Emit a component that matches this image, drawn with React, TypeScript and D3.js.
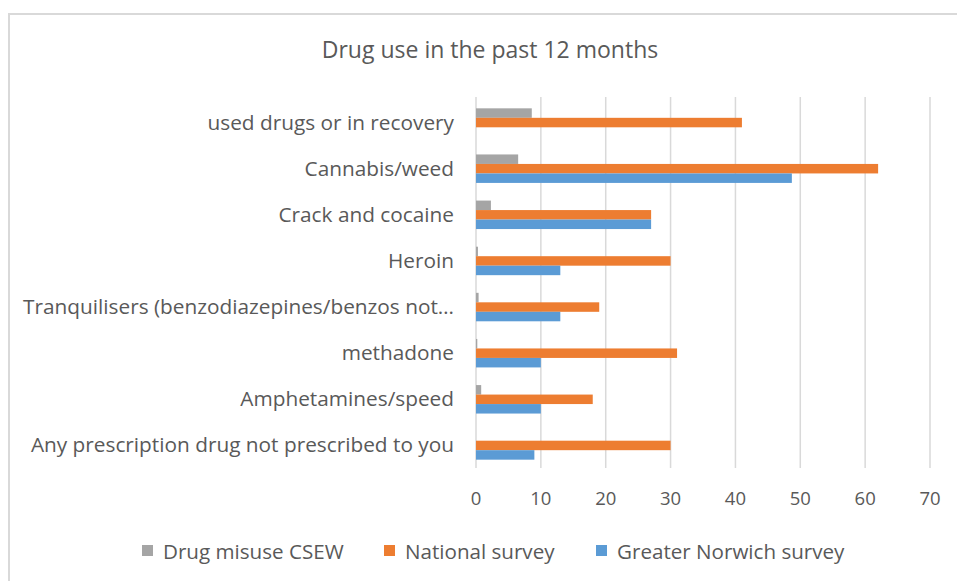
import React from "react";
import * as d3 from "d3";

const categories = [
  "used drugs or in recovery",
  "Cannabis/weed",
  "Crack and cocaine",
  "Heroin",
  "Tranquilisers (benzodiazepines/benzos not…",
  "methadone",
  "Amphetamines/speed",
  "Any prescription drug not prescribed to you",
];
const seriesNames = ["Drug misuse CSEW", "National survey", "Greater Norwich survey"];
const seriesColors = ["#A5A5A5", "#ED7D31", "#5B9BD5"];
const csew = [8.6, 6.5, 2.3, 0.3, 0.4, 0.2, 0.8, 0];
const national = [41, 62, 27, 30, 19, 31, 18, 30];
const norwich = [0, 48.7, 27, 13, 13, 10, 10, 9];
const seriesValues = [csew, national, norwich];
const xTicks = [0, 10, 20, 30, 40, 50, 60, 70];

const FONT = "'Open Sans', sans-serif";
const TEXT = "#595959";

export default function App() {
  const x = d3.scaleLinear().domain([0, 70]).range([476, 930]);
  const y = d3.scaleBand<string>().domain(categories).range([99.5, 468.5]).padding(0);
  const inner = d3
    .scaleBand<string>()
    .domain(seriesNames)
    .range([0, y.bandwidth()])
    .paddingInner(0)
    .paddingOuter(0.93);

  const legendX = [142, 384, 596];

  return (
    <svg
      width={957}
      height={581}
      style={{ position: "absolute", left: 0, top: 0, background: "#fff" }}
      fontFamily={FONT}
    >
      <rect x={9} y={14} width={1000} height={1000} fill="#fff" stroke="#d9d9d9" strokeWidth={2} />
      <text x={490} y={58} textAnchor="middle" fontSize={23} fill={TEXT}>
        Drug use in the past 12 months
      </text>
      {xTicks.map((t) => (
        <line key={"g" + t} x1={x(t)} x2={x(t)} y1={97} y2={468} stroke="#d9d9d9" strokeWidth={1.5} />
      ))}
      {categories.map((c, i) => (
        <g key={c}>
          {seriesNames.map((s, j) => {
            const v = seriesValues[j][i];
            if (!v) return null;
            return (
              <rect
                key={s}
                x={x(0)}
                y={(y(c) as number) + (inner(s) as number)}
                width={x(v) - x(0)}
                height={inner.bandwidth()}
                fill={seriesColors[j]}
              />
            );
          })}
          <text
            x={454}
            y={(y(c) as number) + y.bandwidth() / 2 - 1}
            textAnchor="end"
            dominantBaseline="central"
            fontSize={20.8}
            fill={TEXT}
          >
            {c}
          </text>
        </g>
      ))}
      {xTicks.map((t) => (
        <text key={"t" + t} x={x(t)} y={497} textAnchor="middle" dominantBaseline="central" fontSize={18.5} fill={TEXT}>
          {t}
        </text>
      ))}
      {seriesNames.map((s, j) => (
        <g key={s}>
          <rect x={legendX[j]} y={545} width={11} height={11} fill={seriesColors[j]} />
          <text x={legendX[j] + 21} y={551} dominantBaseline="central" fontSize={20.6} fill={TEXT}>
            {s}
          </text>
        </g>
      ))}
    </svg>
  );
}
